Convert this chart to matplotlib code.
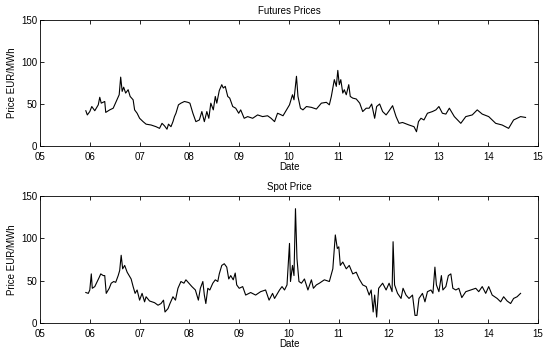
import matplotlib
matplotlib.use("Agg")
import matplotlib.pyplot as plt

# Futures prices (fractional year, EUR/MWh)
fut_t = [2005.92, 2005.95, 2006.00, 2006.04, 2006.10, 2006.17, 2006.20, 2006.23, 2006.30, 2006.32,
         2006.40, 2006.47, 2006.53, 2006.59, 2006.62, 2006.65, 2006.68, 2006.72, 2006.77, 2006.81,
         2006.87, 2006.90, 2006.95, 2007.00, 2007.07, 2007.13, 2007.23, 2007.33, 2007.40, 2007.45,
         2007.50, 2007.55, 2007.58, 2007.63, 2007.67, 2007.70, 2007.73, 2007.78, 2007.83, 2007.90,
         2007.97, 2008.01, 2008.07, 2008.13, 2008.20, 2008.25, 2008.30, 2008.35, 2008.39, 2008.43,
         2008.48, 2008.52, 2008.55, 2008.60, 2008.65, 2008.68, 2008.72, 2008.77, 2008.81, 2008.87,
         2008.93, 2008.99, 2009.03, 2009.10, 2009.17, 2009.27, 2009.37, 2009.47, 2009.57, 2009.64,
         2009.71, 2009.77, 2009.81, 2009.88, 2009.95, 2010.01, 2010.07, 2010.10, 2010.15, 2010.18,
         2010.23, 2010.28, 2010.35, 2010.45, 2010.55, 2010.65, 2010.75, 2010.81, 2010.85, 2010.91,
         2010.95, 2010.98, 2011.01, 2011.04, 2011.08, 2011.11, 2011.15, 2011.20, 2011.23, 2011.28,
         2011.35, 2011.42, 2011.48, 2011.55, 2011.61, 2011.66, 2011.72, 2011.76, 2011.82, 2011.88,
         2011.95, 2012.00, 2012.08, 2012.15, 2012.21, 2012.28, 2012.41, 2012.51, 2012.56, 2012.60,
         2012.65, 2012.71, 2012.78, 2012.88, 2012.95, 2013.01, 2013.08, 2013.15, 2013.22, 2013.32,
         2013.45, 2013.55, 2013.68, 2013.78, 2013.88, 2014.01, 2014.15, 2014.28, 2014.41, 2014.51,
         2014.65, 2014.75]
fut_v = [42, 37, 41, 47, 42, 49, 58, 51, 53, 40,
         43, 45, 53, 61, 82, 65, 70, 63, 67, 59,
         55, 43, 39, 33, 29, 26, 25, 23, 21, 27,
         24, 20, 26, 23, 29, 35, 39, 49, 51, 53,
         52, 51, 39, 29, 31, 41, 29, 41, 33, 51,
         43, 59, 51, 66, 73, 69, 71, 59, 57, 47,
         45, 39, 43, 33, 35, 33, 37, 35, 36, 33,
         29, 39, 38, 36, 43, 49, 61, 55, 83, 59,
         45, 43, 47, 46, 44, 51, 52, 49, 59, 79,
         71, 90, 73, 79, 63, 67, 61, 73, 59, 57,
         56, 51, 41, 45, 45, 50, 33, 47, 50, 41,
         37, 41, 48, 35, 27, 28, 25, 23, 17, 29,
         33, 31, 39, 41, 43, 47, 39, 38, 45, 35,
         27, 35, 37, 43, 38, 35, 27, 25, 21, 31,
         35, 34]

# Spot price (fractional year, EUR/MWh)
spot_t = [2005.92, 2005.97, 2006.00, 2006.03, 2006.05, 2006.10, 2006.15, 2006.19, 2006.22, 2006.27,
          2006.30, 2006.33, 2006.39, 2006.43, 2006.48, 2006.52, 2006.57, 2006.60, 2006.63, 2006.66,
          2006.70, 2006.75, 2006.79, 2006.83, 2006.87, 2006.91, 2006.95, 2007.00, 2007.05, 2007.10,
          2007.13, 2007.20, 2007.30, 2007.37, 2007.43, 2007.48, 2007.51, 2007.57, 2007.61, 2007.67,
          2007.72, 2007.77, 2007.83, 2007.89, 2007.93, 2007.99, 2008.05, 2008.12, 2008.18, 2008.22,
          2008.27, 2008.30, 2008.33, 2008.37, 2008.41, 2008.47, 2008.52, 2008.57, 2008.60, 2008.65,
          2008.70, 2008.75, 2008.79, 2008.83, 2008.88, 2008.92, 2008.95, 2009.00, 2009.07, 2009.13,
          2009.23, 2009.33, 2009.43, 2009.53, 2009.60, 2009.67, 2009.71, 2009.81, 2009.86, 2009.91,
          2009.96, 2010.01, 2010.03, 2010.07, 2010.10, 2010.13, 2010.16, 2010.20, 2010.25, 2010.31,
          2010.38, 2010.45, 2010.49, 2010.55, 2010.61, 2010.71, 2010.81, 2010.88, 2010.93, 2010.97,
          2011.00, 2011.03, 2011.08, 2011.15, 2011.21, 2011.28, 2011.35, 2011.41, 2011.48, 2011.55,
          2011.61, 2011.65, 2011.69, 2011.72, 2011.76, 2011.80, 2011.88, 2011.95, 2012.01, 2012.07,
          2012.09, 2012.12, 2012.18, 2012.25, 2012.29, 2012.35, 2012.41, 2012.48, 2012.53, 2012.57,
          2012.61, 2012.68, 2012.73, 2012.78, 2012.85, 2012.89, 2012.93, 2012.96, 2013.01, 2013.06,
          2013.09, 2013.15, 2013.20, 2013.25, 2013.29, 2013.35, 2013.41, 2013.47, 2013.55, 2013.65,
          2013.75, 2013.81, 2013.88, 2013.95, 2014.01, 2014.08, 2014.18, 2014.25, 2014.31, 2014.38,
          2014.45, 2014.51, 2014.58, 2014.65]
spot_v = [36, 35, 39, 58, 41, 43, 49, 54, 58, 56,
          56, 35, 41, 47, 49, 48, 56, 62, 80, 64,
          68, 60, 56, 52, 43, 35, 39, 27, 35, 25,
          31, 26, 24, 21, 23, 27, 13, 17, 23, 31,
          27, 41, 49, 47, 51, 47, 43, 39, 27, 41,
          49, 33, 23, 41, 39, 47, 51, 49, 58, 68,
          70, 66, 52, 56, 51, 59, 45, 41, 43, 33,
          36, 33, 37, 39, 27, 35, 29, 39, 43, 39,
          45, 94, 49, 68, 56, 135, 76, 49, 47, 52,
          39, 51, 41, 45, 47, 51, 49, 64, 104, 88,
          90, 68, 72, 64, 68, 58, 60, 52, 45, 43,
          33, 39, 13, 33, 7, 41, 47, 39, 47, 37,
          96, 45, 35, 29, 41, 33, 29, 33, 9, 9,
          29, 35, 25, 37, 39, 35, 66, 45, 37, 56,
          39, 43, 56, 58, 41, 39, 41, 30, 37, 39,
          41, 37, 43, 35, 43, 33, 29, 25, 31, 26,
          23, 29, 31, 35]

year_ticks = list(range(2005, 2016))
tick_labels = ["%02d" % (y % 100) for y in year_ticks]
price_ticks = [0, 50, 100, 150]

plt.rcParams['font.family'] = ['Liberation Sans', 'DejaVu Sans']
fig = plt.figure(figsize=(5.5, 3.52), dpi=100)
ax1 = fig.add_axes([40/550, 1-146/352, 498/550, 126/352])
ax2 = fig.add_axes([40/550, 1-323/352, 498/550, 127/352])

for ax, t, v, title in [(ax1, fut_t, fut_v, "Futures Prices"), (ax2, spot_t, spot_v, "Spot Price")]:
    ax.plot(t, v, color='black', linewidth=0.8)
    ax.set_xlim(2005, 2015)
    ax.set_ylim(0, 150)
    ax.set_xticks(year_ticks)
    ax.set_xticklabels(tick_labels)
    ax.set_yticks(price_ticks)
    ax.tick_params(direction='in', top=True, right=True, labelsize=7, length=3, width=0.6)
    ax.tick_params(axis='x', pad=4)
    ax.tick_params(axis='y', pad=2)
    for s in ax.spines.values():
        s.set_linewidth(0.6)
    ax.set_title(title, fontsize=7, pad=4)
    ax.set_xlabel("Date", fontsize=7, labelpad=0)
    ax.set_ylabel("Price EUR/MWh", fontsize=7, labelpad=3)

fig.savefig("out.png", dpi=100)
